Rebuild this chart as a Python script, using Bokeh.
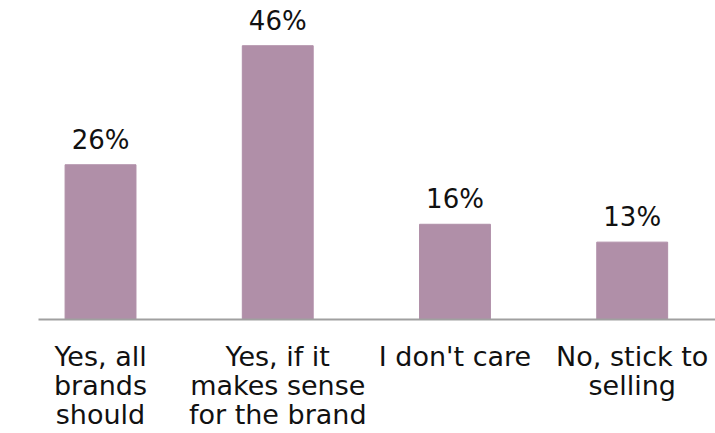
from bokeh.plotting import figure
from bokeh.models import ColumnDataSource, Range1d, FixedTicker
from bokeh.core.properties import value
from bokeh.embed import file_html
from bokeh.resources import INLINE

categories = ["Yes, all\nbrands\nshould", "Yes, if it\nmakes sense\nfor the brand", "I don't care", "No, stick to\nselling"]
values = [26, 46, 16, 13]
labels = ["26%", "46%", "16%", "13%"]

xs = list(range(len(categories)))
src = ColumnDataSource(dict(x=xs, top=values, lab=labels))

p = figure(width=715, height=433, output_backend="svg", toolbar_location=None,
           x_range=Range1d(-0.35, 3.47), y_range=Range1d(0, 53.6),
           min_border_left=38, min_border_right=0, min_border_top=0, min_border_bottom=113)
p.outline_line_color = None
p.background_fill_color = "white"
p.border_fill_color = "white"
p.grid.visible = False
p.yaxis.visible = False

p.vbar(x="x", top="top", width=0.40, source=src, color="#b08fa8")
p.text(x="x", y="top", text="lab", source=src, text_align="center", text_baseline="alphabetic",
       y_offset=-25, text_font_size="26px", text_font=value("DejaVu Sans"), text_color="#111111")

ax = p.xaxis[0]
ax.ticker = FixedTicker(ticks=xs)
ax.major_label_overrides = {i: c for i, c in enumerate(categories)}
ax.axis_line_color = "#a0a0a0"
ax.axis_line_width = 2
ax.major_tick_line_color = None
ax.minor_tick_line_color = None
ax.major_label_text_font = "DejaVu Sans"
ax.major_label_text_font_size = "27px"
ax.major_label_text_color = "#111111"
ax.major_label_standoff = 15
ax.major_label_text_line_height = 0.95

open("out.html", "w").write(file_html(p, INLINE))
